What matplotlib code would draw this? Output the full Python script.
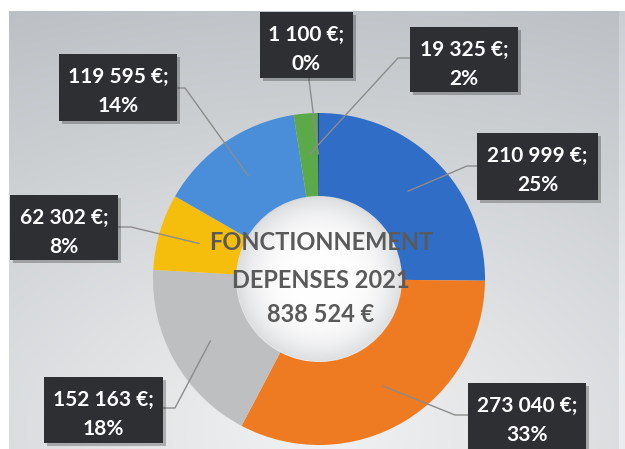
import numpy as np
import matplotlib
matplotlib.use('Agg')
import matplotlib.pyplot as plt
from matplotlib.patches import Rectangle, Circle
from matplotlib.colors import to_rgb

# ---- data ----
values = [210999, 273040, 152163, 62302, 119595, 19325, 1100]
percent_labels = ['25%', '33%', '18%', '8%', '14%', '2%', '0%']
colors = ['#2F6DC7', '#EE7B22', '#BEBFC0', '#F6BE0C', '#4A8EDA', '#5CA949', '#22427A']
title_lines = ['FONCTIONNEMENT', 'DEPENSES 2021']

def fmt_eur(v):
    return f"{v:,}".replace(',', ' ') + ' €'

value_labels = [fmt_eur(v) + ';' for v in values]
total_label = fmt_eur(sum(values))

# ---- layout (image pixel coords, y down) ----
W, H = 625, 449
CX, CY, R = 319, 279, 166
RING = 83
boxes = [(477, 133, 598, 200), (468, 383, 586, 452), (44, 377, 163, 443),
         (10, 195, 118, 260), (59, 54, 177, 121), (410, 27, 518, 92),
         (260, 12, 353, 78)]
anchors = [((477, 166), (467, 166)), ((468, 415), (455, 415)),
           ((163, 408), (175, 408)), ((118, 227), (131, 227)),
           ((177, 88), (185, 88)), ((410, 58), (398, 58)),
           ((309, 78), (309, 80))]

fig = plt.figure(figsize=(W / 100, H / 100), dpi=100)
fig.patch.set_facecolor('white')
ax = fig.add_axes([0, 0, 1, 1])

# background gradient
yy, xx = np.mgrid[0:H, 0:W]
d = np.sqrt(((xx - 319) / 1.6) ** 2 + (yy - 430) ** 2) / 462.0
d = np.clip(d, 0, 1.1)
c0 = np.array(to_rgb('#f1f2f3'))
c1 = np.array(to_rgb('#bcc0c4'))
img = c0[None, None, :] + (c1 - c0)[None, None, :] * d[..., None]
img = np.clip(img, 0, 1)
img[:11, :, :] = 1.0
img[:, :9, :] = 1.0
img[:, 619:, :] = np.clip(img[:, 619:, :] + 0.06, 0, 1)
ax.imshow(img, extent=(0, W, H, 0), zorder=0, interpolation='bilinear')

# donut
wedges, _ = ax.pie(values, colors=colors, startangle=-90, counterclock=True,
                   radius=R, center=(CX, CY),
                   wedgeprops=dict(width=RING, edgecolor='none'))
for w in wedges:
    w.set_zorder(2)

# hole shading
hy, hx = np.mgrid[0:2 * RING, 0:2 * RING]
hd = np.sqrt((hx - RING) ** 2 + (hy - RING) ** 2) / RING
hd = np.clip(hd, 0, 1)
hc0 = np.array(to_rgb('#ffffff'))
hc1 = np.array(to_rgb('#dadcde'))
himg = hc0 + (hc1 - hc0) * (hd[..., None] ** 3.5)
him = ax.imshow(himg, extent=(CX - RING, CX + RING, CY + RING, CY - RING),
                zorder=3, interpolation='bilinear')
clip = Circle((CX, CY), RING - 1, transform=ax.transData)
him.set_clip_path(clip)

# leader lines + boxes
total = float(sum(values))
cum = np.cumsum([0] + values[:-1]) / total
fr = np.array(values) / total
for i in range(len(values)):
    mid = (cum[i] + fr[i] / 2) * 2 * np.pi
    ex = CX + 0.75 * R * np.sin(mid)
    ey = CY - 0.75 * R * np.cos(mid)
    (ax0, ay0), (bx0, by0) = anchors[i]
    ax.plot([ax0, bx0, ex], [ay0, by0, ey], color='#8c8c8c', lw=1.0,
            zorder=4, solid_capstyle='butt')
    x0, y0, x1, y1 = boxes[i]
    ax.add_patch(Rectangle((x0 + 3, y0 + 3), x1 - x0, y1 - y0,
                           facecolor='black', alpha=0.25, edgecolor='none', zorder=5))
    ax.add_patch(Rectangle((x0, y0), x1 - x0, y1 - y0,
                           facecolor='#2d2f33', edgecolor='none', zorder=6))
    xc = (x0 + x1) / 2
    ax.text(xc, y0 + 29, value_labels[i], color='white', ha='center',
            va='baseline', fontsize=15, family='Lato', fontweight='bold', zorder=7)
    ax.text(xc, y0 + 58, percent_labels[i], color='white', ha='center',
            va='baseline', fontsize=15, family='Lato', fontweight='bold', zorder=7)

# center text
for txt, y in zip(title_lines + [total_label], [242, 280, 315]):
    ax.text(CX + 2, y, txt, color='#5a5a5a', ha='center', va='center',
            fontsize=17, family='Lato', fontweight='bold', zorder=8)

ax.set_xlim(0, W)
ax.set_ylim(H, 0)
ax.set_aspect('equal', adjustable='box')
ax.axis('off')

fig.savefig('out.png', dpi=100)
